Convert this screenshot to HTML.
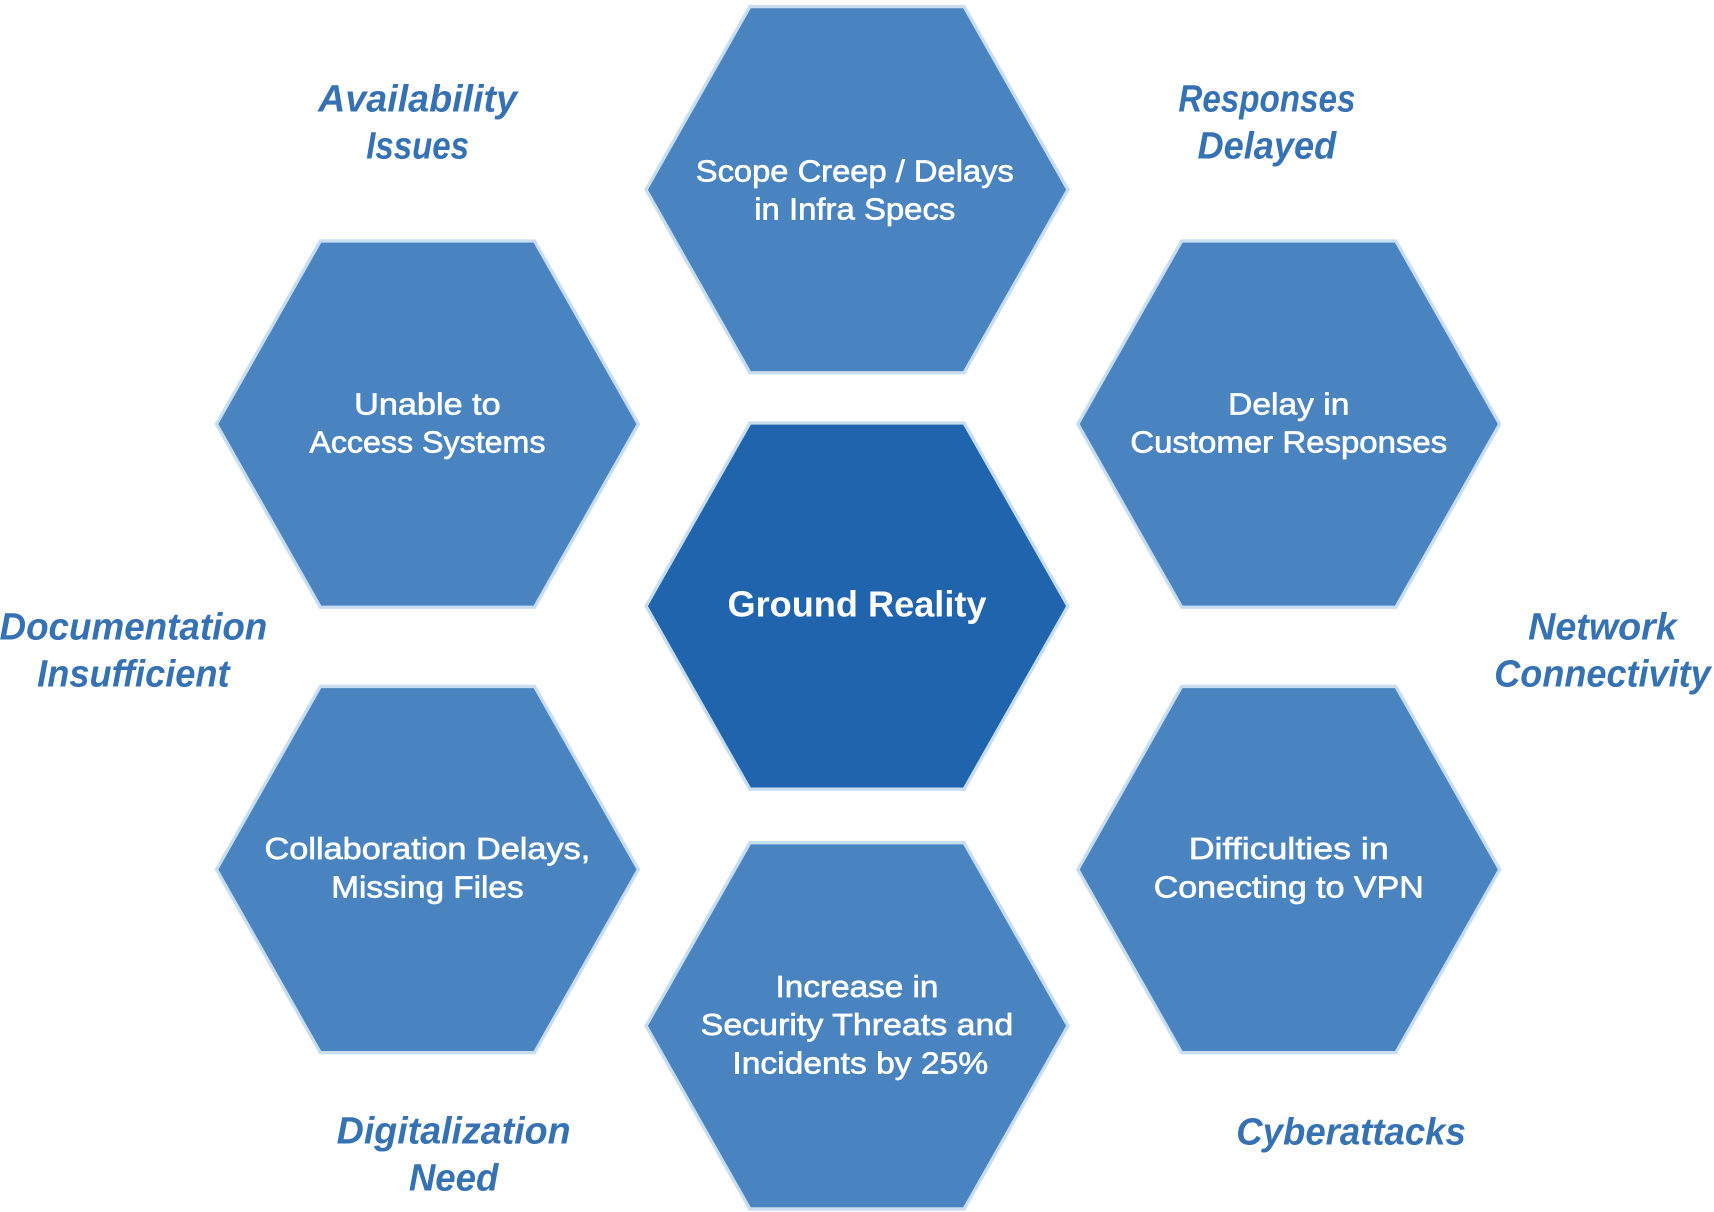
<!DOCTYPE html>
<html><head><meta charset="utf-8"><style>html,body{margin:0;padding:0;background:#fff}svg{display:block}</style></head>
<body>
<svg width="1714" height="1212" viewBox="0 0 1568 1108.8" xmlns="http://www.w3.org/2000/svg">
<defs>
<polygon id="hx" points="-193,0 -98,-167.5 98,-167.5 193,0 98,167.5 -98,167.5" />
</defs>
<g stroke="#c8def0" stroke-width="3">
<use href="#hx" x="784" y="173.5" fill="#4a84c0"/>
<use href="#hx" x="391" y="388" fill="#4a84c0"/>
<use href="#hx" x="1179" y="388" fill="#4a84c0"/>
<use href="#hx" x="391" y="795.5" fill="#4a84c0"/>
<use href="#hx" x="1179" y="795.5" fill="#4a84c0"/>
<use href="#hx" x="784" y="938.5" fill="#4a84c0"/>
<use href="#hx" x="784" y="554.5" fill="#1f64ad"/>
</g>
<g font-family="Liberation Sans, sans-serif" font-size="28" fill="#fff" stroke="#fff" stroke-width="0.6" text-anchor="middle">
<text x="782" y="166" textLength="291" lengthAdjust="spacingAndGlyphs">Scope Creep / Delays</text>
<text x="782" y="201" textLength="184" lengthAdjust="spacingAndGlyphs">in Infra Specs</text>
<text x="391" y="379" textLength="134" lengthAdjust="spacingAndGlyphs">Unable to</text>
<text x="391" y="414" textLength="216" lengthAdjust="spacingAndGlyphs">Access Systems</text>
<text x="1179" y="379" textLength="111" lengthAdjust="spacingAndGlyphs">Delay in</text>
<text x="1179" y="414" textLength="290" lengthAdjust="spacingAndGlyphs">Customer Responses</text>
<text x="391" y="786" textLength="298" lengthAdjust="spacingAndGlyphs">Collaboration Delays,</text>
<text x="391" y="821" textLength="176" lengthAdjust="spacingAndGlyphs">Missing Files</text>
<text x="1179" y="786" textLength="183" lengthAdjust="spacingAndGlyphs">Difficulties in</text>
<text x="1179" y="821" textLength="247" lengthAdjust="spacingAndGlyphs">Conecting to VPN</text>
<text x="784" y="912" textLength="149" lengthAdjust="spacingAndGlyphs">Increase in</text>
<text x="784" y="947" textLength="286" lengthAdjust="spacingAndGlyphs">Security Threats and</text>
<text x="787" y="982" textLength="234" lengthAdjust="spacingAndGlyphs">Incidents by 25%</text>
<text x="784" y="564" font-size="33" font-weight="bold" stroke-width="0" textLength="237" lengthAdjust="spacingAndGlyphs">Ground Reality</text>
</g>
<g font-family="Liberation Sans, sans-serif" font-size="35" font-style="italic" font-weight="bold" fill="#3571b3" text-anchor="middle">
<text x="382" y="102" textLength="182" lengthAdjust="spacingAndGlyphs">Availability</text>
<text x="382" y="145" textLength="94" lengthAdjust="spacingAndGlyphs">Issues</text>
<text x="1159" y="102" textLength="162" lengthAdjust="spacingAndGlyphs">Responses</text>
<text x="1159" y="145" textLength="127" lengthAdjust="spacingAndGlyphs">Delayed</text>
<text x="122" y="585" textLength="245" lengthAdjust="spacingAndGlyphs">Documentation</text>
<text x="122" y="628" textLength="176" lengthAdjust="spacingAndGlyphs">Insufficient</text>
<text x="1466" y="585" textLength="136" lengthAdjust="spacingAndGlyphs">Network</text>
<text x="1466" y="628" textLength="198" lengthAdjust="spacingAndGlyphs">Connectivity</text>
<text x="415" y="1046" textLength="214" lengthAdjust="spacingAndGlyphs">Digitalization</text>
<text x="415" y="1089" textLength="82" lengthAdjust="spacingAndGlyphs">Need</text>
<text x="1236" y="1047" textLength="210" lengthAdjust="spacingAndGlyphs">Cyberattacks</text>
</g>
</svg>
</body></html>
